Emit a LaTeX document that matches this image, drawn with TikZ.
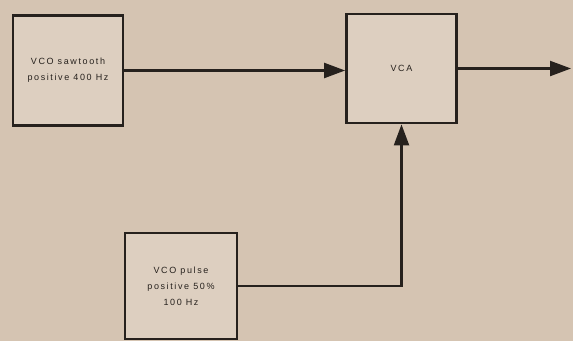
\documentclass[tikz,border=0pt]{standalone}
\usepackage{fontspec}
\setmainfont{Liberation Sans}
\newfontfamily\boxfont[LetterSpace=18]{Liberation Sans}
\usetikzlibrary{arrows.meta}
\definecolor{paper}{RGB}{213,196,178}
\definecolor{boxfill}{RGB}{221,207,192}
\definecolor{ink}{RGB}{38,33,29}
\begin{document}
\begin{tikzpicture}[x=1pt,y=-1pt,
  block/.style={draw=ink,line width=2.8pt,fill=boxfill,inner sep=0pt,
    align=center,text=ink,font=\boxfont\fontsize{9}{16}\selectfont},
  signal/.style={draw=ink,line width=2.2pt,-{Triangle[length=21pt,width=15pt]}}]
\fill[paper] (0,0) rectangle (573,341);
\useasboundingbox (0,0) rectangle (573,341);
\node[block,minimum width=110pt,minimum height=110pt] (saw) at (68,70.5) {VCO sawtooth\\positive 400 Hz};
\node[block,minimum width=110pt,minimum height=109pt] (vca) at (401.5,68.5) {VCA};
\node[block,minimum width=112pt,minimum height=106pt] (pulse) at (181,286) {VCO pulse\\positive 50\%\\100 Hz};
\coordinate (out) at (571,68.5);
% audio path
\draw[signal] (saw.east) -- (saw.east -| vca.west);
\draw[signal] (vca.east) -- (out);
% control input
\draw[signal] (pulse.east) -| (vca.south);
\end{tikzpicture}
\end{document}
